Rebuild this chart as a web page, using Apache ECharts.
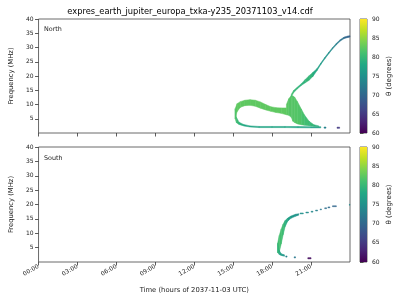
<!DOCTYPE html>
<html>
<head>
<meta charset="utf-8">
<script src="https://cdn.jsdelivr.net/npm/echarts@6/dist/echarts.min.js"></script>
<style>html,body{margin:0;padding:0;background:#fff}#c{width:400px;height:300px}</style>
</head>
<body>
<div id="c"></div>
<script>
// ---------- DATA (time in hours of 2037-11-03 UTC, frequency in MHz, theta in degrees) ----------
const titleText = 'expres_earth_jupiter_europa_txka-y235_20371103_v14.cdf';
const timeTicks = [0, 3, 6, 9, 12, 15, 18, 21];
const freqTicks = [5, 10, 15, 20, 25, 30, 35, 40];
const thetaTicks = [60, 65, 70, 75, 80, 85, 90];
const viridis = ['#440154','#482475','#414487','#355f8d','#2a788e','#21918c','#22a884','#44bf70','#7ad151','#bddf26','#fde725'];

// North: upper branch of the loop
const nUpT  = [15.15, 15.3, 15.55, 15.9, 16.3, 16.7, 17.1, 17.5, 17.9, 18.3, 18.7, 19.1];
const nUpLo = [5.0, 7.5, 9.0, 9.6, 9.7, 9.4, 8.7, 8.1, 7.6, 7.2, 6.9, 6.4];
const nUpHi = [8.5, 10.3, 11.0, 11.5, 11.7, 11.5, 10.9, 10.0, 9.2, 8.9, 8.8, 8.8];
const nUpTh = [82, 82.5, 82.5, 82.5, 82.5, 82.5, 82.5, 82.5, 82.5, 82.5, 82.5, 82.5];
// North: lower branch of the loop
const nLowT  = [15.15, 15.25, 15.45, 15.8, 16.3, 17.0, 18.0, 19.0, 20.0, 21.0, 21.75];
const nLowLo = [5.0, 3.6, 3.0, 2.5, 2.1, 1.9, 1.9, 1.9, 1.85, 1.8, 1.8];
const nLowHi = [8.5, 5.5, 3.8, 3.0, 2.5, 2.3, 2.3, 2.3, 2.25, 2.2, 2.2];
const nLowTh = [82, 81, 79.5, 78, 77.5, 77.5, 77.5, 77.5, 77.5, 77, 76.5];
// North: blob
const nBlobT  = [19.1, 19.28, 19.48, 19.6, 19.73, 19.95, 20.25, 20.48, 20.85, 21.22, 21.6];
const nBlobLo = [6.4, 6.2, 5.5, 4.1, 3.7, 3.2, 2.9, 2.75, 2.55, 2.35, 2.15];
const nBlobHi = [10.0, 12.0, 13.2, 13.0, 12.6, 11.0, 8.4, 6.4, 4.1, 2.9, 2.5];
const nBlobTh = [82.5, 82, 82, 82, 82, 82, 81.5, 81, 80.5, 79.5, 78.5];
// North: rising arc
const nArcT  = [19.48, 19.65, 19.95, 20.25, 20.55, 20.85, 21.15, 21.45, 21.75, 22.05, 22.35, 22.65, 22.95, 23.25, 23.55, 23.85, 24.0];
const nArcLo = [12.6, 14.1, 15.5, 16.7, 17.6, 18.5, 19.9, 21.85, 24.05, 25.95, 27.75, 29.45, 30.95, 32.25, 33.15, 33.55, 33.65];
const nArcHi = [13.6, 14.9, 16.1, 17.3, 18.8, 20.1, 21.3, 22.55, 24.55, 26.45, 28.25, 29.95, 31.45, 32.75, 33.65, 34.05, 34.15];
const nArcTh = [81.5, 80.5, 79.5, 79, 79.5, 80, 79, 77.5, 76.5, 75.5, 75, 74, 73, 72, 70.5, 69.5, 69];
// North: isolated dashes
const nDashT0 = [22.0, 23.0];
const nDashT1 = [22.15, 23.2];
const nDashLo = [1.7, 1.65];
const nDashHi = [2.1, 2.05];
const nDashTh = [73, 65];

// South: main curve (upper part)
const sUpT  = [18.42, 18.55, 18.7, 18.85, 19.0, 19.2, 19.45, 19.8, 20.05];
const sUpLo = [3.3, 3.5, 6.3, 9.5, 12.3, 14.2, 15.2, 15.9, 16.3];
const sUpHi = [6.5, 9.2, 11.5, 13.2, 14.4, 15.3, 16.0, 16.6, 16.8];
const sUpTh = [81, 81, 81, 80.5, 79.5, 77.5, 76, 75.5, 75];
// South: bottom hook
const sHookT  = [18.42, 18.55, 18.7, 18.85, 18.95];
const sHookLo = [3.3, 2.6, 2.3, 2.1, 2.0];
const sHookHi = [6.5, 4.0, 2.9, 2.6, 2.5];
const sHookTh = [81, 78, 76.5, 76, 75.5];
// South: dashes
const sDashT0 = [19.05, 19.7, 20.75, 20.15, 20.6, 21.0, 21.35, 21.7, 22.05, 22.3, 22.65, 23.95];
const sDashT1 = [19.15, 19.8, 21.0, 20.4, 20.8, 21.15, 21.5, 21.8, 22.2, 22.45, 22.95, 24.0];
const sDashLo = [1.7, 1.4, 1.1, 16.75, 17.05, 17.35, 17.75, 18.15, 18.55, 18.85, 19.25, 19.75];
const sDashHi = [2.1, 1.8, 1.5, 17.05, 17.35, 17.65, 18.05, 18.45, 18.85, 19.15, 19.55, 20.05];
const sDashTh = [73, 72, 61, 75, 74.5, 74, 73, 72, 71, 70.5, 70, 74];

// ---------- build items ----------
function track(T, LO, HI, TH) {
  const out = [];
  for (let i = 0; i < T.length - 1; i++) {
    out.push([T[i], LO[i], HI[i], T[i + 1], LO[i + 1], HI[i + 1], (TH[i] + TH[i + 1]) / 2]);
  }
  return out;
}
function dashes(T0, T1, LO, HI, TH) {
  return T0.map((t, i) => [t, LO[i], HI[i], T1[i], LO[i], HI[i], TH[i]]);
}
const northData = [].concat(
  track(nUpT, nUpLo, nUpHi, nUpTh),
  track(nLowT, nLowLo, nLowHi, nLowTh),
  track(nBlobT, nBlobLo, nBlobHi, nBlobTh),
  track(nArcT, nArcLo, nArcHi, nArcTh),
  dashes(nDashT0, nDashT1, nDashLo, nDashHi, nDashTh)
);
const southData = [].concat(
  track(sUpT, sUpLo, sUpHi, sUpTh),
  track(sHookT, sHookLo, sHookHi, sHookTh),
  dashes(sDashT0, sDashT1, sDashLo, sDashHi, sDashTh)
);

function renderQuad(params, api) {
  const a = api.coord([api.value(0), api.value(1)]);
  const b = api.coord([api.value(0), api.value(2)]);
  const c = api.coord([api.value(3), api.value(5)]);
  const d = api.coord([api.value(3), api.value(4)]);
  const col = api.visual('color');
  return { type: 'polygon', shape: { points: [a, b, c, d] }, style: { fill: col, stroke: col, lineWidth: 0.5 } };
}
function renderBar(params, api) {
  const p0 = api.coord([0, api.value(1)]);
  const p1 = api.coord([1, api.value(3)]);
  const stops = viridis.map((c, i) => ({ offset: i / (viridis.length - 1), color: c }));
  return {
    type: 'rect',
    shape: { x: p0[0], y: p1[1], width: p1[0] - p0[0], height: p0[1] - p1[1] },
    style: { fill: new echarts.graphic.LinearGradient(0, 1, 0, 0, stops) }
  };
}

const FONT = 'DejaVu Sans';
const TXT = '#222';
const gridBase = { show: true, borderColor: '#444', borderWidth: 0.8, backgroundColor: 'transparent', containLabel: false };

function timeAxis(idx, showLabels) {
  return {
    type: 'value', gridIndex: idx, min: 0, max: 24, interval: 3,
    axisLine: { show: false },
    splitLine: { show: false },
    axisTick: { show: true, length: 3.5, lineStyle: { color: '#333', width: 0.8 }, customValues: timeTicks },
    axisLabel: {
      show: showLabels, customValues: timeTicks, rotate: 30, fontSize: 6, fontFamily: FONT, color: TXT, margin: 4,
      formatter: v => String(v).padStart(2, '0') + ':00'
    },
    name: showLabels ? 'Time (hours of 2037-11-03 UTC)' : '',
    nameLocation: 'middle', nameGap: 25,
    nameTextStyle: { fontSize: 6.8, fontFamily: FONT, color: TXT }
  };
}
function freqAxis(idx) {
  return {
    type: 'value', gridIndex: idx, min: 0, max: 40, interval: 5,
    axisLine: { show: false },
    splitLine: { show: false },
    axisTick: { show: true, length: 3.5, lineStyle: { color: '#333', width: 0.8 }, customValues: freqTicks },
    axisLabel: { customValues: freqTicks, fontSize: 6, fontFamily: FONT, color: TXT, margin: 5 },
    name: 'Frequency (MHz)', nameLocation: 'middle', nameGap: 16,
    nameTextStyle: { fontSize: 6.8, fontFamily: FONT, color: TXT }
  };
}
function cbAxis(idx) {
  return {
    type: 'value', gridIndex: idx, position: 'right', min: 60, max: 90, interval: 5,
    axisLine: { show: false },
    splitLine: { show: false },
    axisTick: { show: true, length: 3.5, lineStyle: { color: '#333', width: 0.8 }, customValues: thetaTicks },
    axisLabel: { customValues: thetaTicks, fontSize: 6, fontFamily: FONT, color: TXT, margin: 5 },
    name: 'θ (degrees)', nameLocation: 'middle', nameGap: 19, nameRotate: 90,
    nameTextStyle: { fontSize: 7, fontFamily: FONT, color: TXT }
  };
}

const chart = echarts.init(document.getElementById('c'), null, { renderer: 'canvas' });
chart.setOption({
  animation: false,
  backgroundColor: '#fff',
  grid: [
    Object.assign({ left: 30, top: 19, width: 320, height: 114 }, gridBase),
    Object.assign({ left: 30, top: 147, width: 320, height: 115 }, gridBase),
    Object.assign({ left: 360, top: 19, width: 7, height: 114 }, gridBase),
    Object.assign({ left: 360, top: 147, width: 7, height: 115 }, gridBase)
  ],
  xAxis: [
    timeAxis(0, false),
    timeAxis(1, true),
    { type: 'value', gridIndex: 2, min: 0, max: 1, show: false },
    { type: 'value', gridIndex: 3, min: 0, max: 1, show: false }
  ],
  yAxis: [freqAxis(0), freqAxis(1), cbAxis(2), cbAxis(3)],
  visualMap: [{
    type: 'continuous', show: false, min: 60, max: 90, dimension: 6, seriesIndex: [0, 1],
    inRange: { color: viridis }
  }],
  graphic: [
    { type: 'text', x: 190, y: 11.5, style: { text: titleText, fontSize: 8.3, fontFamily: FONT, fill: '#000', align: 'center', verticalAlign: 'middle' } },
    { type: 'text', x: 44, y: 29.7, style: { text: 'North', fontSize: 6.4, fontFamily: FONT, fill: TXT, align: 'left', verticalAlign: 'middle' } },
    { type: 'text', x: 44, y: 158.3, style: { text: 'South', fontSize: 6.4, fontFamily: FONT, fill: TXT, align: 'left', verticalAlign: 'middle' } }
  ],
  series: [
    { type: 'custom', xAxisIndex: 0, yAxisIndex: 0, data: northData, renderItem: renderQuad, clip: true, silent: true },
    { type: 'custom', xAxisIndex: 1, yAxisIndex: 1, data: southData, renderItem: renderQuad, clip: true, silent: true },
    { type: 'custom', xAxisIndex: 2, yAxisIndex: 2, data: [[0, 60, 1, 90]], renderItem: renderBar, silent: true, z: 1 },
    { type: 'custom', xAxisIndex: 3, yAxisIndex: 3, data: [[0, 60, 1, 90]], renderItem: renderBar, silent: true, z: 1 }
  ]
});
</script>
</body>
</html>
